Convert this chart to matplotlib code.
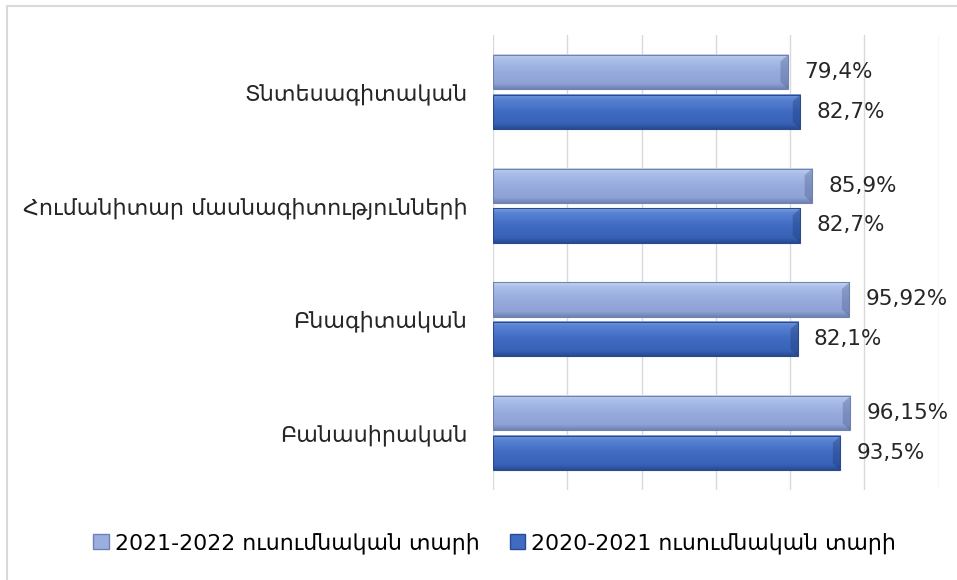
import matplotlib
matplotlib.use("Agg")
import matplotlib.pyplot as plt
import numpy as np
from matplotlib.colors import LinearSegmentedColormap
from matplotlib.patches import Rectangle, Patch, Polygon

# data
categories = ["Տնտեսագիտական", "Հումանիտար մասնագիտությունների",
              "Բնագիտական", "Բանասիրական"]
series_names = ["2021-2022 ուսումնական տարի", "2020-2021 ուսումնական տարի"]
values_2122 = [79.4, 85.9, 95.92, 96.15]
values_2021 = [82.7, 82.7, 82.1, 93.5]
labels_2122 = ["79,4%", "85,9%", "95,92%", "96,15%"]
labels_2021 = ["82,7%", "82,7%", "82,1%", "93,5%"]

plt.rcParams['font.family'] = ['DejaVu Sans']

fig = plt.figure(figsize=(9.57, 5.8), dpi=100)
ax = fig.add_axes([0.515, 0.155, 0.466, 0.785])

# gradient colours for the bevelled bars (top -> bottom)
light_cmap = LinearSegmentedColormap.from_list(
    "light", [(0, "#c9d6f2"), (0.12, "#adc0ea"), (0.5, "#97abdd"),
              (0.85, "#8ea2d6"), (1, "#6f82b4")])
dark_cmap = LinearSegmentedColormap.from_list(
    "dark", [(0, "#7fa2e2"), (0.12, "#5a84d4"), (0.5, "#3f6bc2"),
             (0.85, "#3862b6"), (1, "#284b94")])

grad = np.linspace(0, 1, 64).reshape(-1, 1)
h = 0.30
off = 0.175
y = np.arange(len(categories))


def draw_bar(yc, v, lab, cmap, edge, endcol):
    ax.imshow(grad, cmap=cmap, aspect='auto',
              extent=(0, v, yc + h / 2, yc - h / 2), zorder=3)
    # right end bevel
    w = 2.0
    b = 0.06
    ax.add_patch(Polygon([(v - w, yc - h / 2 + b), (v, yc - h / 2),
                          (v, yc + h / 2), (v - w, yc + h / 2 - b)],
                         closed=True, facecolor=endcol, alpha=0.35,
                         edgecolor='none', zorder=4))
    ax.add_patch(Rectangle((0, yc - h / 2), v, h, fill=False,
                           edgecolor=edge, lw=0.8, zorder=5))
    ax.text(v + 4.3, yc, lab, va='center', ha='left', fontsize=15.5,
            color="#262626")


for yi, v, lab in zip(y, values_2122, labels_2122):
    draw_bar(yi - off, v, lab, light_cmap, "#7083b0", "#4a5a88")

for yi, v, lab in zip(y, values_2021, labels_2021):
    draw_bar(yi + off, v, lab, dark_cmap, "#2a4a8c", "#1c3670")

ax.set_xlim(0, 120)
ax.set_ylim(len(categories) - 0.5, -0.5)
ax.set_xticks(np.arange(0, 121, 20))
ax.set_xticklabels([])
ax.tick_params(axis='x', length=0)
ax.tick_params(axis='y', length=0, pad=18.5)
ax.set_yticks(y)
ax.set_yticklabels(categories, fontsize=16, color="#262626")
ax.grid(axis='x', color="#d9d9d9", lw=1, zorder=0)
ax.set_axisbelow(True)
for s in ax.spines.values():
    s.set_visible(False)

handles = [Patch(facecolor="#9aaedf", edgecolor="#6f82b4"),
           Patch(facecolor="#3f6bc2", edgecolor="#284b94")]
fig.legend(handles, series_names, loc='center', bbox_to_anchor=(0.517, 0.064),
           ncol=2, frameon=False, fontsize=15.8, handlelength=0.7,
           handleheight=0.7, handletextpad=0.3, columnspacing=1.35)

# outer chart border
fig.add_artist(Rectangle((7 / 957, -0.1), 1.2, 1 - 6 / 580 + 0.1,
                         transform=fig.transFigure, fill=False,
                         edgecolor="#d9d9d9", lw=1.5))

fig.savefig("out.png", dpi=100)
